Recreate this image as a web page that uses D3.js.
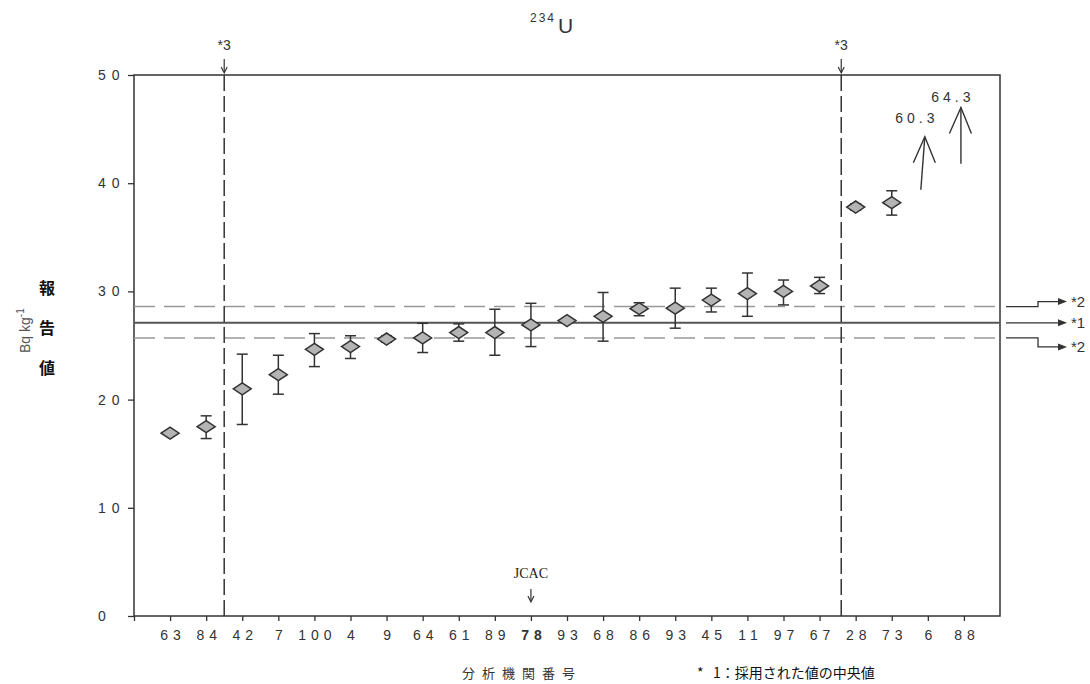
<!DOCTYPE html>
<html>
<head>
<meta charset="utf-8">
<script src="https://cdn.jsdelivr.net/npm/d3@7"></script>
<style>
  body { margin: 0; background: #fff; }
  svg { display: block; font-family: "Liberation Sans", Arial, sans-serif; }
</style>
</head>
<body>
<svg></svg>
<script>
const width = 1090, height = 684;
const svg = d3.select("svg").attr("width", width).attr("height", height);

// lab numbers along the x axis (93 shows up twice, so points go by index)
const labs = ["63", "84", "42", "7", "100", "4", "9", "64", "61", "89", "78", "93",
              "68", "86", "93", "45", "11", "97", "67", "28", "73", "6", "88"];
// reported values, Bq/kg
const values = [16.9, 17.5, 21.0, 22.3, 24.65, 24.9, 25.6, 25.7, 26.2, 26.2, 26.9, 27.3,
                27.7, 28.4, 28.45, 29.2, 29.8, 30.0, 30.5, 37.8, 38.2, 60.3, 64.3];
// error bar ends (null = no bar)
const lows  = [null, 16.4, 17.7, 20.5, 23.05, 23.8, 25.3, 24.35, 25.4, 24.1, 24.9, null,
               25.4, 27.75, 26.6, 28.1, 27.7, 28.75, 29.8, 37.5, 37.05, null, null];
const highs = [null, 18.5, 24.2, 24.1, 26.1, 25.9, 25.9, 27.05, 27.0, 28.35, 28.9, null,
               29.9, 28.95, 30.3, 30.3, 31.7, 31.05, 31.3, 38.1, 39.3, null, null];

const median = 27.1;          // *1
const band = [25.7, 28.6];    // *2
const cutoffs = [1.5, 18.6];  // *3, between labs
const jcacIndex = 10;

const yTicks = [0, 10, 20, 30, 40, 50];

const ink = "#333";

const x = d3.scaleLinear().domain([-1, 23]).range([134, 1000]);
const y = d3.scaleLinear().domain([0, 50]).range([616, 75]);

// frame
svg.append("rect")
    .attr("x", x(-1)).attr("y", y(50))
    .attr("width", x(23) - x(-1)).attr("height", y(0) - y(50))
    .attr("fill", "none").attr("stroke", ink).attr("stroke-width", 1.5);

// y axis, labels sit left-aligned like the scan
const yAxis = svg.append("g")
    .attr("transform", `translate(${x(-1)},0)`)
    .call(d3.axisLeft(y).tickValues(yTicks).tickSize(6).tickPadding(14));
yAxis.select(".domain").remove();
yAxis.selectAll("line").attr("stroke", ink).attr("stroke-width", 1.3);
yAxis.selectAll("text")
    .attr("fill", ink).style("font-size", "14px").style("letter-spacing", "6px")
    .attr("text-anchor", "start").attr("x", -36);

// x axis
const xAxis = svg.append("g")
    .attr("transform", `translate(0,${y(0)})`)
    .call(d3.axisBottom(x).tickValues(d3.range(-1, 23))
        .tickFormat(i => i < 0 ? "" : labs[i]).tickSize(5).tickPadding(9));
xAxis.select(".domain").remove();
xAxis.selectAll("line").attr("stroke", ink).attr("stroke-width", 1.3);
xAxis.selectAll("text")
    .attr("fill", ink).style("font-size", "14px").style("letter-spacing", "5px")
    .attr("dx", "2.5px")
    .style("font-weight", i => i === jcacIndex ? "bold" : null);

// reference lines
band.forEach(v => {
    svg.append("line")
        .attr("x1", x(-1)).attr("x2", x(23)).attr("y1", y(v)).attr("y2", y(v))
        .attr("stroke", "#999").attr("stroke-width", 1.5)
        .attr("stroke-dasharray", "21,9");
});
svg.append("line")
    .attr("x1", x(-1)).attr("x2", x(23)).attr("y1", y(median)).attr("y2", y(median))
    .attr("stroke", "#555").attr("stroke-width", 2);

// *3 cut-off lines
cutoffs.forEach(c => {
    svg.append("line")
        .attr("x1", x(c)).attr("x2", x(c)).attr("y1", y(50)).attr("y2", y(0))
        .attr("stroke", ink).attr("stroke-width", 1.5)
        .attr("stroke-dasharray", "16,5");
    svg.append("text")
        .attr("x", x(c)).attr("y", 50)
        .attr("text-anchor", "middle").attr("fill", ink)
        .style("font-size", "14px").text("*3");
    svg.append("line")
        .attr("x1", x(c)).attr("x2", x(c)).attr("y1", 59).attr("y2", 72)
        .attr("stroke", ink).attr("stroke-width", 1.2);
    svg.append("path")
        .attr("d", `M${x(c) - 3},${67} L${x(c)},${73} L${x(c) + 3},${67}`)
        .attr("fill", "none").attr("stroke", ink).attr("stroke-width", 1.2);
});

// error bars
const pts = values.map((v, i) => ({ i, v, lo: lows[i], hi: highs[i] }));
const inRange = pts.filter(d => d.v <= 50);
const bars = svg.append("g").selectAll("g")
    .data(inRange.filter(d => d.lo != null))
    .enter().append("g")
    .attr("stroke", ink).attr("stroke-width", 1.5);
bars.append("line")
    .attr("x1", d => x(d.i)).attr("x2", d => x(d.i))
    .attr("y1", d => y(d.lo)).attr("y2", d => y(d.hi));
bars.append("line")
    .attr("x1", d => x(d.i) - 5.5).attr("x2", d => x(d.i) + 5.5)
    .attr("y1", d => y(d.lo)).attr("y2", d => y(d.lo));
bars.append("line")
    .attr("x1", d => x(d.i) - 5.5).attr("x2", d => x(d.i) + 5.5)
    .attr("y1", d => y(d.hi)).attr("y2", d => y(d.hi));

// diamond markers
svg.append("g").selectAll("path")
    .data(inRange)
    .enter().append("path")
    .attr("transform", d => `translate(${x(d.i)},${y(d.v)})`)
    .attr("d", "M-9,0 L0,-6 L9,0 L0,6 Z")
    .attr("fill", "#b4b4b4").attr("stroke", ink).attr("stroke-width", 1.5);

// off-scale values drawn as arrows
const offScale = [
    { i: 21, base: 39.4, tip: 44.3, lean: 4, text: 45.6 },
    { i: 22, base: 41.8, tip: 47.0, lean: 0, text: 47.5 }
];
offScale.forEach(o => {
    const tx = x(o.i) - 3, bx = tx - o.lean, ty = y(o.tip);
    svg.append("line")
        .attr("x1", bx).attr("x2", tx).attr("y1", y(o.base)).attr("y2", ty)
        .attr("stroke", ink).attr("stroke-width", 1.4);
    svg.append("path")
        .attr("d", `M${tx - 11.5},${ty + 26} L${tx},${ty} L${tx + 10.5},${ty + 26}`)
        .attr("fill", "none").attr("stroke", ink).attr("stroke-width", 1.4);
    svg.append("text")
        .attr("x", tx - 8).attr("y", y(o.text))
        .attr("text-anchor", "middle").attr("fill", ink)
        .style("font-size", "14px").style("letter-spacing", "4px")
        .text(values[o.i].toFixed(1));
});

// right side keys
const keyX0 = x(23) + 6, keyStep = x(23) + 38, keyEnd = x(23) + 67;
const keys = [
    { v: band[1], shift: -5, label: "*2" },
    { v: median, shift: 0, label: "*1" },
    { v: band[0], shift: 9, label: "*2" }
];
keys.forEach(k => {
    const y0 = y(k.v), y1 = y0 + k.shift;
    svg.append("path")
        .attr("d", `M${keyX0},${y0} H${keyStep} V${y1} H${keyEnd - 8}`)
        .attr("fill", "none").attr("stroke", ink).attr("stroke-width", 1.3);
    svg.append("path")
        .attr("d", `M${keyEnd - 9},${y1 - 3.5} L${keyEnd},${y1} L${keyEnd - 9},${y1 + 3.5} Z`)
        .attr("fill", ink);
    svg.append("text")
        .attr("x", keyEnd + 4).attr("y", y1 + 5)
        .attr("fill", ink).style("font-size", "15px")
        .text(k.label);
});

// JCAC marker
svg.append("text")
    .attr("x", x(jcacIndex)).attr("y", 578)
    .attr("text-anchor", "middle").attr("fill", "#222")
    .style("font-family", "'Liberation Serif', serif").style("font-size", "14px")
    .text("JCAC");
svg.append("line")
    .attr("x1", x(jcacIndex)).attr("x2", x(jcacIndex)).attr("y1", 589).attr("y2", 601)
    .attr("stroke", ink).attr("stroke-width", 1.2);
svg.append("path")
    .attr("d", `M${x(jcacIndex) - 3},596 L${x(jcacIndex)},602 L${x(jcacIndex) + 3},596`)
    .attr("fill", "none").attr("stroke", ink).attr("stroke-width", 1.2);

// title
const title = svg.append("text")
    .attr("x", 530).attr("y", 33).attr("fill", ink);
title.append("tspan").style("font-size", "12px").style("letter-spacing", "2px")
    .attr("dy", -11).text("234");
title.append("tspan").style("font-size", "21px").attr("dx", 2)
    .attr("dy", 11).text("U");

// y axis titles
const yt = svg.append("text")
    .attr("transform", "translate(30,353) rotate(-90)")
    .attr("fill", "#555").style("font-size", "14px");
yt.append("tspan").text("Bq kg");
yt.append("tspan").style("font-size", "10px").attr("dy", -6).text("-1");

["報", "告", "値"].forEach((c, k) => {
    svg.append("text")
        .attr("x", 47).attr("y", 294 + k * 40)
        .attr("text-anchor", "middle").attr("fill", "#111")
        .style("font-family", "'Noto Sans CJK JP', sans-serif")
        .style("font-size", "16px").style("font-weight", "bold")
        .text(c);
});

// bottom texts
svg.append("text")
    .attr("x", 462).attr("y", 678).attr("fill", ink)
    .style("font-family", "'Noto Sans CJK JP', sans-serif")
    .style("font-size", "13px").style("letter-spacing", "7px")
    .text("分析機関番号");
svg.append("text")
    .attr("x", 697).attr("y", 678).attr("fill", "#111")
    .style("font-family", "'Noto Sans CJK JP', sans-serif")
    .style("font-size", "14px")
    .attr("xml:space", "preserve")
    .text("*   1：採用された値の中央値");
</script>
</body>
</html>
